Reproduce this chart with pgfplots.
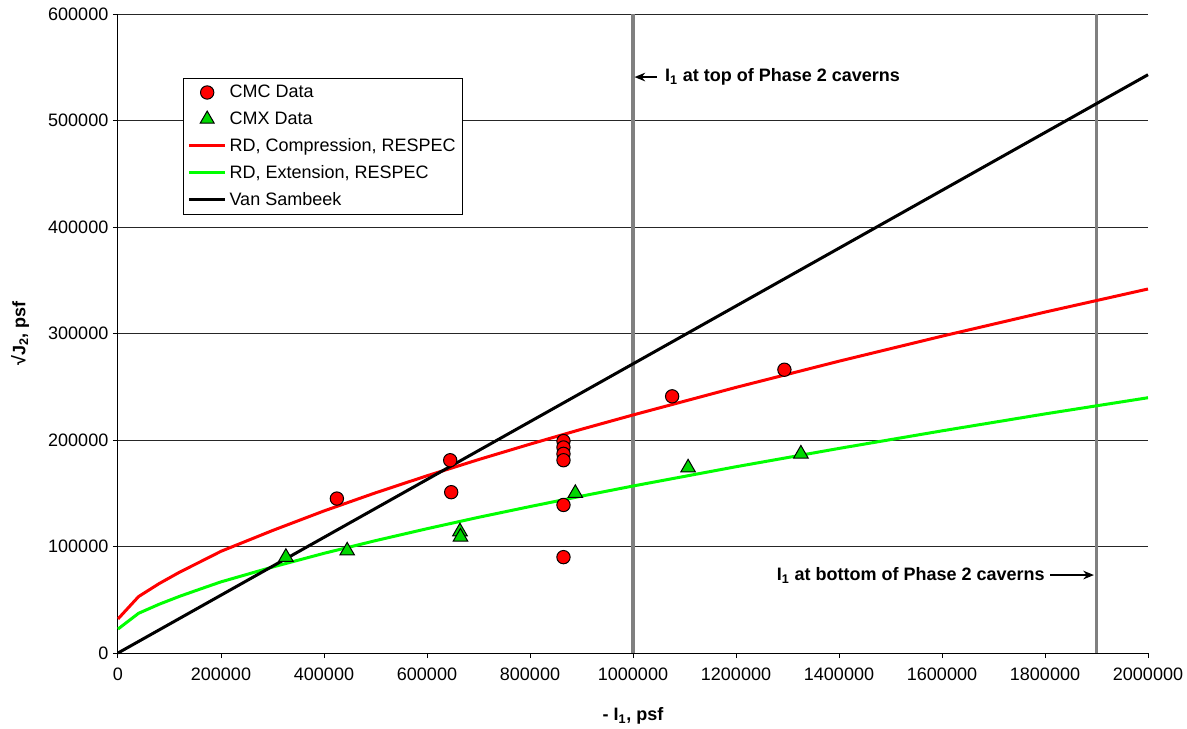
\documentclass[border=0pt]{standalone}
\usepackage{pgfplots}
\pgfplotsset{compat=1.18}
\usepackage{fontspec}
\setmainfont{Liberation Sans}
\usetikzlibrary{arrows.meta}
\definecolor{lgreen}{RGB}{0,255,0}
\definecolor{mgreen}{RGB}{0,215,0}
\definecolor{vgray}{RGB}{128,128,128}
\begin{document}
\begin{tikzpicture}
\path[use as bounding box] (-88.5pt,-56.25pt) rectangle (801.75pt,489.75pt);
\begin{axis}[
  at={(0pt,0pt)}, anchor=south west,
  scale only axis, width=772.5pt, height=479.25pt,
  xmin=0, xmax=2000000, ymin=0, ymax=600000,
  axis x line=bottom, axis y line=left,
  axis line style={-, black, line width=0.75pt},
  xtick={0,200000,...,2000000},
  ytick={0,100000,...,600000},
  scaled ticks=false,
  /pgf/number format/fixed,
  /pgf/number format/1000 sep={},
  /pgf/number format/assume math mode=true,
  tick align=outside,
  major tick length=3.75pt,
  tick style={black, line width=0.75pt},
  tick label style={font=\fontsize{13.5}{16}\selectfont},
  xticklabel style={yshift=-4pt},
  ymajorgrids,
  grid style={black!85, line width=0.75pt},
  xlabel={\textbf{- I\textsubscript{1}, psf}},
  ylabel={\textbf{√J\textsubscript{2}, psf}},
  every axis x label/.style={at={(axis description cs:0.5,-0.0986)}, anchor=center, font=\fontsize{13.5}{16}\selectfont},
  every axis y label/.style={at={(axis description cs:-0.0951,0.5)}, rotate=90, anchor=center, font=\fontsize{13.5}{16}\selectfont},
  legend style={at={(axis description cs:0.0631,0.8998)}, anchor=north west,
    draw=black, line width=0.75pt, fill=white,
    font=\fontsize{13.5}{16}\selectfont, row sep=5pt, inner xsep=3pt, inner ysep=3pt},
  legend cell align=left,
  legend image code/.code={\draw[mark repeat=2,mark phase=2,#1] plot coordinates {(0cm,0cm) (0.48cm,0cm) (0.96cm,0cm)};},
  clip=false,
]
% legend images in Excel order
\addlegendimage{only marks, mark=*, mark size=5pt, draw=black, fill=red, line width=0.75pt}
\addlegendentry{CMC Data}
\addlegendimage{only marks, mark=triangle*, mark size=6pt, draw=black, fill=mgreen, line width=0.75pt}
\addlegendentry{CMX Data}
\addlegendimage{red, line width=2.25pt}
\addlegendentry{RD, Compression, RESPEC}
\addlegendimage{lgreen, line width=2.25pt}
\addlegendentry{RD, Extension, RESPEC}
\addlegendimage{black, line width=2.25pt}
\addlegendentry{Van Sambeek}

% vertical reference lines
\addplot[vgray, line width=2.4pt, forget plot] coordinates {(1000000,0) (1000000,600000)};
\addplot[vgray, line width=2.4pt, forget plot] coordinates {(1900000,0) (1900000,600000)};

% RD compression
\addplot[red, line width=2.25pt, line join=round, forget plot] coordinates {
(0,32000) (40000,53000) (80000,65200) (120000,76000) (160000,85700) (200000,95500)
(300000,115000) (400000,133400) (500000,150400) (600000,166400) (700000,181600)
(800000,196100) (900000,210100) (1000000,223500) (1200000,249400) (1400000,274000)
(1600000,297500) (1800000,320100) (2000000,341800)};
% RD extension
\addplot[lgreen, line width=2.25pt, line join=round, forget plot] coordinates {
(0,22500) (40000,37300) (80000,45800) (120000,53300) (160000,60100) (200000,66800)
(300000,80700) (400000,93600) (500000,105500) (600000,116700) (700000,127400)
(800000,137500) (900000,147300) (1000000,156800) (1200000,174900) (1400000,192100)
(1600000,208600) (1800000,224500) (2000000,239700)};
% Van Sambeek
\addplot[black, line width=2.25pt, forget plot] coordinates {(0,0) (2000000,543000)};

% CMC data
\addplot[only marks, mark=*, mark size=5pt, draw=black, fill=red, line width=0.75pt, forget plot] coordinates {
(425000,145000) (645000,181000) (647000,151000)
(865000,199000) (865000,193000) (865000,187000) (865000,181000)
(865000,139000) (865000,90000) (1076000,241000) (1294000,266000)};
% CMX data
\addplot[only marks, mark=triangle*, mark size=6.3pt, draw=black, fill=mgreen, line width=0.75pt, forget plot] coordinates {
(326000,90000) (445000,96000) (664000,114000) (665000,109000)
(888000,150000) (1107000,174000) (1326000,187000)};

% annotations
\draw[-{Stealth[length=8pt,width=6.5pt]}, line width=1.1pt] (axis cs:1046000,540800) -- (axis cs:1003000,540800);
\node[anchor=west, font=\fontsize{13.5}{16}\selectfont\bfseries, inner sep=0pt] at (axis cs:1062000,540800) {I\textsubscript{1} at top of Phase 2 caverns};
\node[anchor=east, font=\fontsize{13.5}{16}\selectfont\bfseries, inner sep=0pt] at (axis cs:1800000,73200) {I\textsubscript{1} at bottom of Phase 2 caverns};
\draw[-{Stealth[length=8pt,width=6.5pt]}, line width=1.1pt] (axis cs:1810000,73200) -- (axis cs:1895000,73200);
\end{axis}
\end{tikzpicture}
\end{document}
